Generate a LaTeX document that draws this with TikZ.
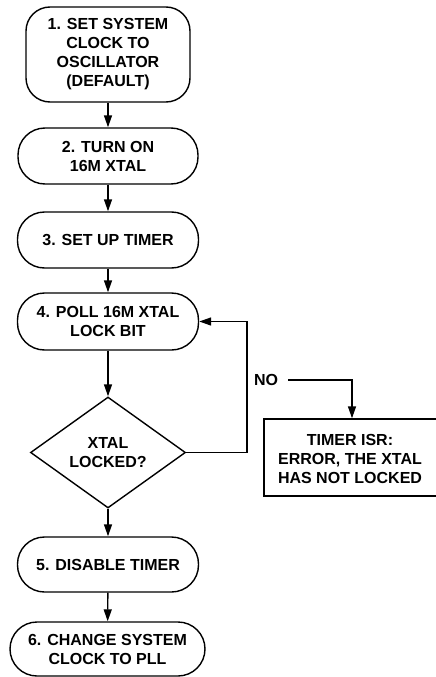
\documentclass[tikz,border=0pt]{standalone}
\usepackage{fontspec}
\setmainfont{Liberation Sans}
\usetikzlibrary{arrows.meta,shapes.geometric}
\begin{document}
\begin{tikzpicture}[x=1pt,y=-1pt,
  every node/.style={font=\fontsize{16}{19}\selectfont\bfseries, align=center},
  stad/.style={draw, line width=1.4pt, rectangle, rounded corners=27pt, inner sep=0pt},
  sq/.style={draw, line width=1.4pt, rectangle, inner sep=0pt},
  dia/.style={draw, line width=1.4pt, diamond, inner sep=0pt},
  arr/.style={line width=1.4pt, -{Triangle[width=8pt,length=12pt]}}]
\useasboundingbox (0,0) rectangle (436,677);
\node[stad, rounded corners=24pt, minimum width=164pt, minimum height=95pt] (b1) at (108,54.5) {1. SET SYSTEM\\CLOCK TO\\OSCILLATOR\\(DEFAULT)};
\node[stad, minimum width=180pt, minimum height=56pt] (b2) at (108,156) {2. TURN ON\\16M XTAL};
\node[stad, minimum width=181pt, minimum height=56pt] (b3) at (108,240) {3. SET UP TIMER};
\node[stad, minimum width=181pt, minimum height=57pt] (b4) at (108,321.5) {4. POLL 16M XTAL\\LOCK BIT};
\node[dia, minimum width=155pt, minimum height=111pt] (d) at (108,452.5) {XTAL\\LOCKED?};
\node[stad, minimum width=181pt, minimum height=55pt] (b5) at (108,564.5) {5. DISABLE TIMER};
\node[stad, minimum width=195pt, minimum height=54pt] (b6) at (107.5,649) {6. CHANGE SYSTEM\\CLOCK TO PLL};
\node[sq, minimum width=196pt, minimum height=77pt] (isr) at (362,457.5) {};
\node (isrt) at (350,459) {TIMER ISR:\\ERROR, THE XTAL\\HAS NOT LOCKED};
\node[inner sep=0pt] (no) at (266,380) {NO};
\coordinate (loopc) at (247,452.5);
\coordinate (noc) at (352,380);
\coordinate (nos) at (288,380);
\draw[arr] (b1) -- (b2);
\draw[arr] (b2) -- (b3);
\draw[arr] (b3) -- (b4);
\draw[arr] (b4) -- (d);
\draw[arr] (d) -- (b5);
\draw[arr] (b5) -- (b6);
\draw[arr] (d.east) -- (loopc) |- (b4.east);
\draw[arr] (nos) -- (noc) -- (noc |- isr.north);
\end{tikzpicture}
\end{document}
